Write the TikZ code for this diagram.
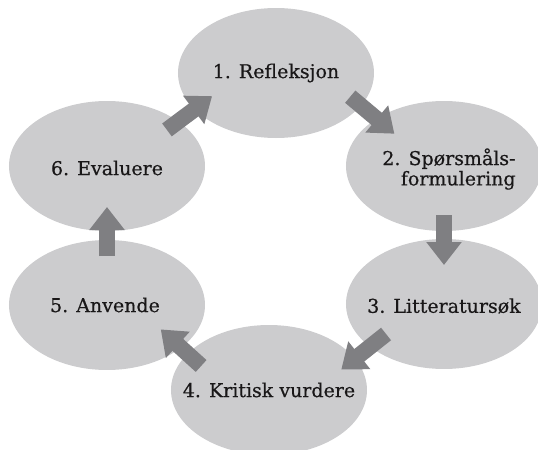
\documentclass[tikz,border=0pt]{standalone}
\usepackage{fontspec}
\setmainfont{DejaVu Serif}[FakeBold=0.4]
\usetikzlibrary{arrows.meta,shapes.geometric}
\definecolor{ovalgray}{RGB}{204,204,206}
\definecolor{flowgray}{RGB}{127,127,130}
\definecolor{textgray}{RGB}{25,23,24}
\tikzset{
    >={Triangle[width=17pt,length=11.5pt]},
    oval/.style={ellipse,fill=ovalgray,minimum width=98pt,minimum height=65pt,inner sep=0pt,outer sep=0pt},
    txt/.style={font=\fontsize{9.5}{8.6}\selectfont,text=textgray,align=center},
    flow/.style={->,draw=flowgray,line width=8pt},
}

\begin{document}
\begin{tikzpicture}[x=0.5pt,y=-0.5pt]
    \useasboundingbox (0,0) rectangle (538,450);

    % the six steps
    \node[oval,label={[txt]center:1. Refleksjon}] (r1) at (276,73) {};
    \node[oval,label={[txt,align=right,xshift=2.5pt,yshift=-1.5pt]center:{2. Spørsmåls-\\formulering}}] (r2) at (444,166) {};
    \node[oval,label={[txt,yshift=-1pt]center:3. Litteratursøk}] (r3) at (444,304) {};
    \node[oval,label={[txt]center:4. Kritisk vurdere}] (r4) at (269,390) {};
    \node[oval,label={[txt,xshift=-1pt]center:5. Anvende}] (r5) at (107,305) {};
    \node[oval,label={[txt,yshift=-1pt]center:6. Evaluere}] (r6) at (107,166) {};

    % arrows round the cycle
    \draw[flow,shorten <=-6.9pt,shorten >=-11.6pt] (r1.-21.7) -- (r2.145.1);
    \draw[flow,shorten <=-8pt,shorten >=-13pt] (r2.south) -- (r3.north);
    \draw[flow,shorten <=-10.2pt,shorten >=-8.7pt] (r3.210.7) -- (r4.20.3);
    \draw[flow,shorten <=-9.1pt,shorten >=-13.6pt] (r4.156.5) -- (r5.-30.8);
    \draw[flow,shorten <=-8pt,shorten >=-12pt] (r5.north) -- (r6.south);
    \draw[flow,shorten <=-7.1pt,shorten >=-10.9pt] (r6.32) -- (r1.204);
\end{tikzpicture}
\end{document}
